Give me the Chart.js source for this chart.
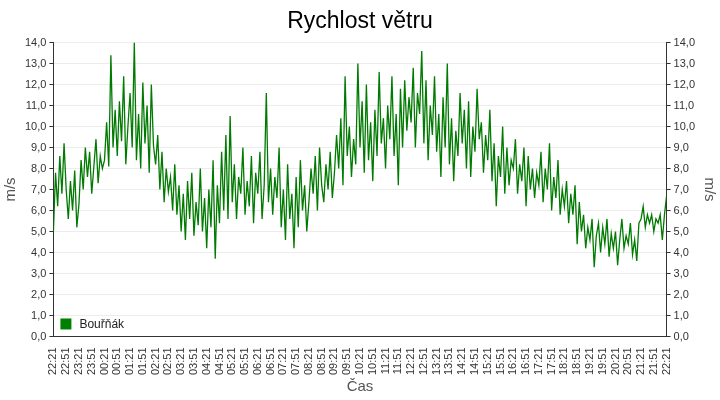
<!DOCTYPE html>
<html><head><meta charset="utf-8">
<script src="https://cdn.jsdelivr.net/npm/chart.js@4"></script>
<style>html,body{margin:0;background:#fff}#w{width:720px;height:400px}</style>
</head><body><div id="w"><canvas id="c"></canvas></div>
<script>
const tickLabels=["22:21","22:51","23:21","23:51","00:21","00:51","01:21","01:51","02:21","02:51","03:21","03:51","04:21","04:51","05:21","05:51","06:21","06:51","07:21","07:51","08:21","08:51","09:21","09:51","10:21","10:51","11:21","11:51","12:21","12:51","13:21","13:51","14:21","14:51","15:21","15:51","16:21","16:51","17:21","17:51","18:21","18:51","19:21","19:51","20:21","20:51","21:21","21:51","22:21"];
const seriesName="Bouřňák";
// wind speed sampled every 5 minutes from 22:21
const windSpeed=[
5.0,7.8,6.2,8.6,6.8,9.2,7.0,5.6,7.4,6.0,7.9,5.2,
6.3,8.4,7.0,9.0,7.6,8.8,6.8,8.1,9.4,7.3,8.6,8.0,
8.4,10.2,8.1,13.4,9.0,10.8,8.6,11.2,9.3,12.4,8.2,10.0,
11.6,9.0,14.0,8.4,10.6,8.0,12.1,9.2,11.0,7.8,12.0,9.1,
8.2,9.6,7.0,8.8,6.4,8.0,6.9,7.6,6.0,8.2,5.8,7.2,
5.0,6.8,4.6,7.4,5.6,7.8,4.8,6.4,5.3,8.0,5.0,6.6,
4.2,7.0,5.2,8.4,3.7,7.2,5.4,8.8,6.0,9.6,5.6,10.5,
6.4,8.2,5.6,7.6,6.8,9.0,5.8,7.4,6.2,8.6,5.4,7.8,
6.8,8.8,5.6,7.2,11.6,6.4,8.0,5.8,7.6,6.6,9.0,5.2,
7.0,4.6,8.2,5.6,6.8,4.2,7.6,5.2,8.4,6.0,7.2,5.0,
6.4,8.0,6.8,8.6,6.0,9.0,7.2,6.4,8.2,7.0,8.8,6.6,
7.8,9.6,8.0,10.4,7.2,12.4,8.6,10.0,7.6,9.4,8.2,13.0,
9.0,11.2,7.8,12.0,8.4,10.2,7.4,10.8,8.6,12.6,9.2,10.4,
8.0,11.0,9.4,12.4,8.6,10.6,7.2,11.8,9.0,12.2,9.8,11.4,
10.2,12.8,9.0,11.6,10.6,13.6,9.2,12.2,8.4,11.0,9.6,12.4,
8.8,10.6,7.6,11.4,9.0,13.0,8.2,10.4,7.4,9.8,8.6,11.6,
9.2,10.8,8.0,11.2,7.6,10.0,8.8,11.8,9.4,10.2,7.8,9.6,
8.4,10.8,7.4,9.2,6.2,8.6,7.6,10.0,6.8,9.0,7.2,8.4,
8.0,9.4,6.8,8.2,7.4,9.0,6.2,8.6,7.0,8.0,6.6,7.8,
7.2,8.8,6.4,8.0,7.0,9.2,6.0,7.6,6.6,8.4,5.8,7.0,
6.2,7.4,5.4,6.8,5.8,7.2,4.4,6.4,5.0,5.8,4.2,5.2,
4.6,5.6,3.3,4.8,5.4,4.0,5.2,4.4,5.6,3.8,4.9,4.2,
5.0,3.4,4.6,5.6,4.2,4.8,4.4,5.4,3.9,4.6,3.6,5.4,
5.6,6.2,5.2,5.8,5.4,5.8,5.0,5.6,5.4,5.8,4.6,5.8,6.7
];
const data=windSpeed.map((v,i)=>({x:i*5,y:v}));
const F='"Liberation Sans", Arial, sans-serif';
const legendPlugin={id:'lg',afterDraw(ch){const a=ch.chartArea,c=ch.ctx;c.save();c.fillStyle='#008000';c.fillRect(a.left+7,a.bottom-18,11,11);c.fillStyle='#222';c.font='12px '+F;c.textBaseline='middle';c.fillText(seriesName,a.left+26,a.bottom-12);c.restore();}};
const yTicks={stepSize:1,color:'#333',padding:3,font:{size:11,family:F},callback:v=>v.toFixed(1).replace('.',',')};
new Chart(document.getElementById('c'),{type:'line',
data:{datasets:[{data,borderColor:'#007a00',borderWidth:1.3,pointRadius:0,tension:0,fill:false}]},
plugins:[legendPlugin],
options:{animation:false,responsive:true,maintainAspectRatio:false,
layout:{padding:{left:0,right:0,top:0,bottom:4}},
plugins:{legend:{display:false},tooltip:{enabled:false},
title:{display:true,text:'Rychlost větru',color:'#000',font:{size:23,family:F,weight:'normal'},padding:{top:8,bottom:7}}},
scales:{
x:{type:'linear',min:0,max:1440,border:{color:'#333'},grid:{display:false,drawOnChartArea:false},
ticks:{stepSize:30,autoSkip:false,maxRotation:90,minRotation:90,color:'#333',font:{size:11,family:F},callback:v=>tickLabels[Math.round(v/30)]},
title:{display:true,text:'Čas',color:'#555',font:{size:15,family:F},padding:0}},
y:{min:0,max:14,border:{color:'#333'},grid:{color:'#ececec',tickColor:'#333',tickLength:4},ticks:yTicks,
title:{display:true,text:'m/s',color:'#555',font:{size:15,family:F},padding:2}},
y2:{position:'right',min:0,max:14,border:{color:'#333'},grid:{drawOnChartArea:false,tickColor:'#333',tickLength:4},ticks:yTicks,
title:{display:true,text:'m/s',color:'#555',font:{size:15,family:F},padding:2}}
}}});
</script></body></html>
